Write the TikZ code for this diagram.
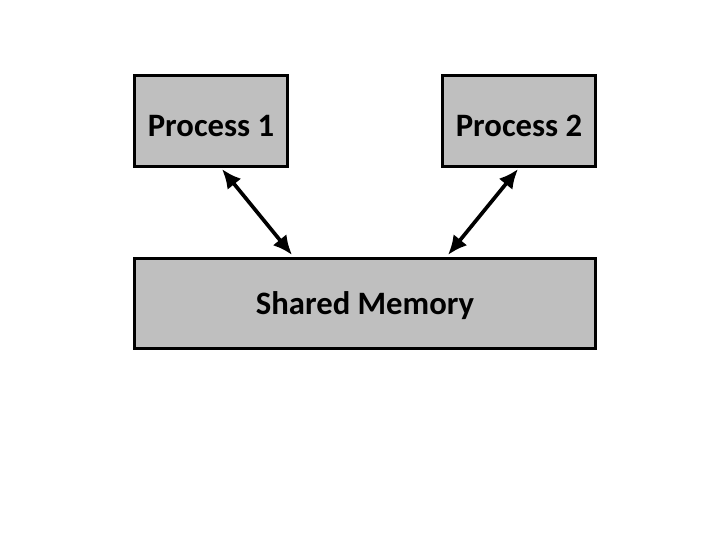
\documentclass[tikz,border=0pt]{standalone}
\usepackage{fontspec}
\setmainfont{Carlito}
\usetikzlibrary{arrows.meta,positioning}

\begin{document}
\begin{tikzpicture}[
    box/.style={
        rectangle,
        draw=black,
        fill=gray!50,
        line width=0.9pt,
        text depth=0pt,
        font=\fontsize{9.3}{11}\selectfont\bfseries
    },
    arrow/.style={{Latex[length=5.5pt,width=5pt]}-{Latex[length=5.5pt,width=5pt]}, line width=1.05pt}
]

% Canvas
\useasboundingbox (0,0) rectangle (7.2,5.4);

% Processes
\node[box, minimum width=1.53cm, minimum height=0.91cm, text height=8.6pt] (proc1) at (2.11, 4.19) {Process 1};
\node[box, minimum width=1.53cm, minimum height=0.91cm, text height=8.6pt] (proc2) at (5.19, 4.19) {Process 2};

% Shared memory
\node[box, minimum width=4.61cm, minimum height=0.90cm] (shmem) at (3.65, 2.365) {Shared Memory};

% Arrows
\draw[arrow] ([xshift=0.11cm, yshift=-0.01cm]proc1.south) -- ([xshift=-0.73cm, yshift=0.02cm]shmem.north);
\draw[arrow] ([xshift=-0.01cm, yshift=-0.01cm]proc2.south) -- ([xshift=0.83cm, yshift=0.02cm]shmem.north);

\end{tikzpicture}
\end{document}
